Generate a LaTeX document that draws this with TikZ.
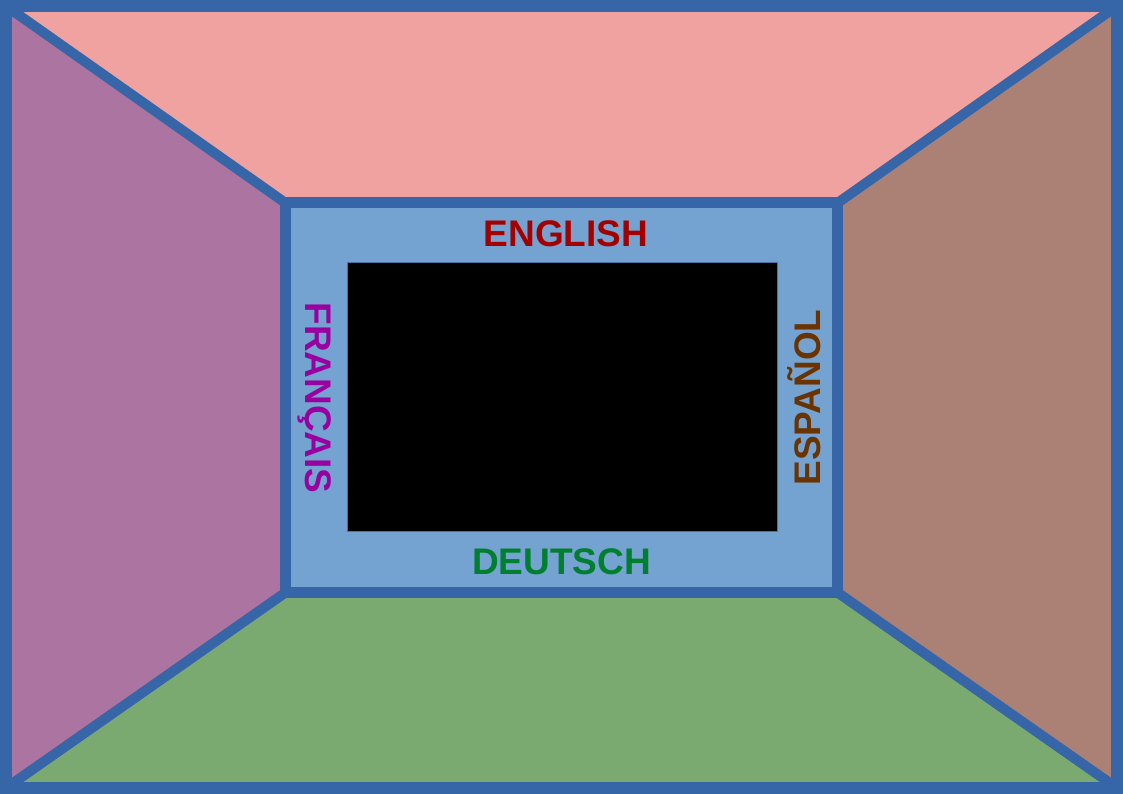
\documentclass[tikz,border=0pt]{standalone}
\usepackage{fontspec}
\setmainfont{Liberation Sans}
\usepackage{tikz}
\usepackage{xcolor}
\usetikzlibrary{positioning}

\definecolor{wallblue}{HTML}{3666A8}
\definecolor{ceiling}{HTML}{F0A2A1}
\definecolor{leftwall}{HTML}{AC74A0}
\definecolor{rightwall}{HTML}{AC8175}
\definecolor{floorgreen}{HTML}{7BAA71}
\definecolor{backwall}{HTML}{74A2D1}
\definecolor{screenedge}{HTML}{4A72A8}
\definecolor{engred}{HTML}{A30000}
\definecolor{deugreen}{HTML}{007F2E}
\definecolor{frapurple}{HTML}{9A00A0}
\definecolor{espbrown}{HTML}{6A3300}

\begin{document}
\begin{tikzpicture}[
  x=1pt, y=-1pt,
  edge/.style={draw=wallblue, line width=10pt, line join=miter},
  lang/.style={font=\fontsize{37}{37}\selectfont\bfseries, inner sep=0pt}
]
\useasboundingbox (0,0) rectangle (1123,794);
\coordinate (otl) at (6,6);
\coordinate (otr) at (1117,6);
\coordinate (obr) at (1117,788);
\coordinate (obl) at (6,788);
\coordinate (itl) at (285.5,203);
\coordinate (itr) at (837.5,203);
\coordinate (ibr) at (837.5,592.5);
\coordinate (ibl) at (285.5,592.5);
\fill[ceiling] (otl) -- (otr) -- (itr) -- (itl) -- cycle;
\fill[leftwall] (otl) -- (itl) -- (ibl) -- (obl) -- cycle;
\fill[rightwall] (otr) -- (obr) -- (ibr) -- (itr) -- cycle;
\fill[floorgreen] (obl) -- (ibl) -- (ibr) -- (obr) -- cycle;
\fill[backwall] (itl) rectangle (ibr);
\draw[edge] (otl) -- (itl);
\draw[edge] (otr) -- (itr);
\draw[edge] (obr) -- (ibr);
\draw[edge] (obl) -- (ibl);
\draw[edge, line width=11pt] (itl) rectangle (ibr);
\draw[draw=wallblue, line width=12pt] (otl) rectangle (obr);
\draw[fill=black, draw=screenedge, line width=1pt] (347,262.5) rectangle (777,531.5);
\node[lang, text=engred, anchor=base] (english) at (566,246.5) {ENGLISH};
\node[lang, text=deugreen, anchor=base] (deutsch) at (561.5,574.5) {DEUTSCH};
\node[lang, text=frapurple, anchor=base, rotate=-90] (francais) at (305,398) {FRANÇAIS};
\node[lang, text=espbrown, anchor=base, rotate=90] (espanol) at (820,397.5) {ESPAÑOL};
\end{tikzpicture}
\end{document}
